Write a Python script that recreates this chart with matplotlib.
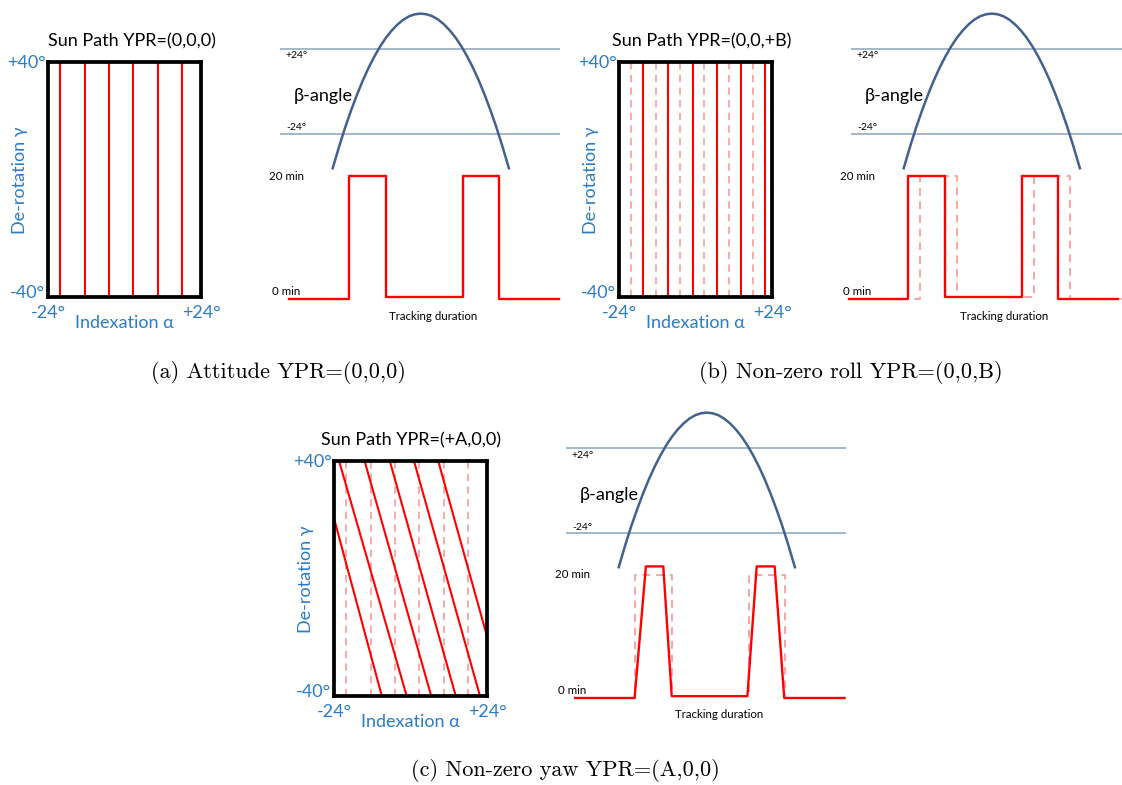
import matplotlib
matplotlib.use("Agg")
import matplotlib.pyplot as plt

W, H = 1122, 785

# sun path lines in the (alpha, gamma) box, alpha in degrees
alpha_paths_a = [-20.2, -12.4, -4.9, 2.7, 10.5, 18.0]
alpha_paths_b = [-16.4, -8.7, -0.9, 6.7, 14.3, 21.7]
# slanted paths for non-zero yaw
yaw_alpha_start = [-24.0, -22.4, -14.4, -6.5, 1.1, 8.7]
yaw_gamma_start = [20.5, 40, 40, 40, 40, 40]
yaw_alpha_end = [-9.0, -1.2, 6.5, 14.2, 21.8, 24.0]
yaw_gamma_end = [-40, -40, -40, -40, -40, -19.7]

# beta angle over the orbit (arbitrary time units)
beta_t = [21.5, 24, 26, 28, 30, 32, 34, 36, 38, 40, 42, 44, 46, 48, 50, 52,
          54, 56, 58, 60, 62, 64, 66, 68, 70, 72, 74, 76, 78, 80, 82.5]
beta_deg = [-44, -30.2, -19.9, -10.5, -1.8, 6.2, 13.4, 19.8, 25.5, 30.4, 34.5, 37.9, 40.6, 42.5, 43.6, 44,
            43.6, 42.5, 40.6, 37.9, 34.5, 30.4, 25.5, 19.8, 13.4, 6.2, -1.8, -10.5, -19.9, -30.2, -44]
beta_limits = [24, -24]

# tracking duration (minutes)
track_a_t = [6.6, 27.2, 27.2, 40, 40, 66.6, 66.6, 79, 79, 99.7]
track_a_min = [0, 0, 20, 20, 0.3, 0.3, 20, 20, 0, 0]
track_b_t = [2.6, 23, 23, 36, 36, 62.3, 62.3, 74.9, 74.9, 95.6]
track_b_min = [0, 0, 20, 20, 0.3, 0.3, 20, 20, 0, 0]
track_c_t = [6.6, 27.1, 31.0, 37.0, 39.9, 66.0, 69.2, 75.4, 78.7, 99.5]
track_c_min = [0, 0, 21.4, 21.4, 0.3, 0.3, 21.4, 21.4, 0, 0]

RED = "#ff0000"
PINK = "#f8a4a4"
BLUE = "#2a7cc6"
ARC = "#43618e"
GRID = "#9db1c6"
FONT = ["Lato", "DejaVu Sans"]

fig = plt.figure(figsize=(W / 100, H / 100), dpi=100)


def px_axes(x0, y0, x1, y1, xlim, ylim):
    ax = fig.add_axes([x0 / W, 1 - y1 / H, (x1 - x0) / W, (y1 - y0) / H])
    ax.set_xlim(xlim)
    ax.set_ylim(ylim)
    return ax


def ptext(x, y, s, **kw):
    kw.setdefault("family", FONT)
    fig.text(x / W, 1 - y / H, s, va="center", **kw)


def box_panel(ox, oy, title, title_x):
    ax = px_axes(48 + ox, 62 + oy, 201 + ox, 297 + oy, (-24, 24), (-40, 40))
    ax.set_xticks([])
    ax.set_yticks([])
    for sp in ax.spines.values():
        sp.set_linewidth(2.7)
        sp.set_color("black")
        sp.set_zorder(5)
    ptext(title_x + ox, 41 + oy, title, ha="center", fontsize=13)
    ptext(46 + ox, 63 + oy, "+40°", ha="right", fontsize=13, color=BLUE)
    ptext(45 + ox, 293 + oy, "-40°", ha="right", fontsize=13, color=BLUE)
    ptext(48 + ox, 313 + oy, "-24°", ha="center", fontsize=13, color=BLUE)
    ptext(201 + ox, 313 + oy, "+24°", ha="center", fontsize=13, color=BLUE)
    ptext(124 + ox, 323 + oy, "Indexation α", ha="center", fontsize=13, color=BLUE)
    ptext(20 + ox, 180 + oy, "De-rotation γ", ha="center", fontsize=13, color=BLUE, rotation=90)
    return ax


def beta_panel(ox, oy, solid_t, solid_min, dashed=False):
    ab = px_axes(270 + ox, 49 + oy, 560 + ox, 134 + oy, (0, 100), (-24, 24))
    ab.axis("off")
    ab.hlines(beta_limits, 3.4, 100, color=GRID, lw=1.3, clip_on=False)
    ab.plot(beta_t, beta_deg, color=ARC, lw=1.8, clip_on=False, solid_capstyle="butt")
    ptext(285 + ox, 56 + oy, "+24°", ha="left", fontsize=7.5)
    ptext(286 + ox, 128 + oy, "-24°", ha="left", fontsize=7.5)
    ptext(294 + ox, 96 + oy, "β-angle", ha="left", fontsize=13)

    at = px_axes(270 + ox, 176 + oy, 560 + ox, 299 + oy, (0, 100), (0, 20))
    at.axis("off")
    if dashed:
        at.plot(track_a_t, track_a_min, color=PINK, lw=1.4, dashes=(4, 3), clip_on=False, zorder=1)
    at.plot(solid_t, solid_min, color=RED, lw=1.7, clip_on=False, zorder=2)
    ptext(269 + ox, 176 + oy, "20 min", ha="left", fontsize=8.3)
    ptext(272 + ox, 292 + oy, "0 min", ha="left", fontsize=8.3)
    ptext(433 + ox, 316 + oy, "Tracking duration", ha="center", fontsize=8.3)


# (a) nominal attitude
ax = box_panel(0, 0, "Sun Path YPR=(0,0,0)", 132)
ax.vlines(alpha_paths_a, -40, 40, color=RED, lw=1.5)
beta_panel(0, 0, track_a_t, track_a_min)

# (b) non-zero roll
ax = box_panel(571, 0, "Sun Path YPR=(0,0,+B)", 131)
ax.vlines(alpha_paths_a, -40, 40, color=PINK, lw=1.3, linestyles=(0, (4, 3)), zorder=1)
ax.vlines(alpha_paths_b, -40, 40, color=RED, lw=1.5, zorder=2)
beta_panel(571, 0, track_b_t, track_b_min, dashed=True)

# (c) non-zero yaw
ax = box_panel(286, 399, "Sun Path YPR=(+A,0,0)", 125)
ax.vlines(alpha_paths_a, -40, 40, color=PINK, lw=1.3, linestyles=(0, (4, 3)), zorder=1)
for a0, g0, a1, g1 in zip(yaw_alpha_start, yaw_gamma_start, yaw_alpha_end, yaw_gamma_end):
    ax.plot([a0, a1], [g0, g1], color=RED, lw=1.5, zorder=2)
beta_panel(286, 399, track_c_t, track_c_min, dashed=True)

# captions
ptext(278, 373, "(a) Attitude YPR=(0,0,0)", ha="center", fontsize=16, family="cmr10")
ptext(851, 373, "(b) Non-zero roll YPR=(0,0,B)", ha="center", fontsize=16, family="cmr10")
ptext(565, 771, "(c) Non-zero yaw YPR=(A,0,0)", ha="center", fontsize=16, family="cmr10")

fig.savefig("out.png", dpi=100)
